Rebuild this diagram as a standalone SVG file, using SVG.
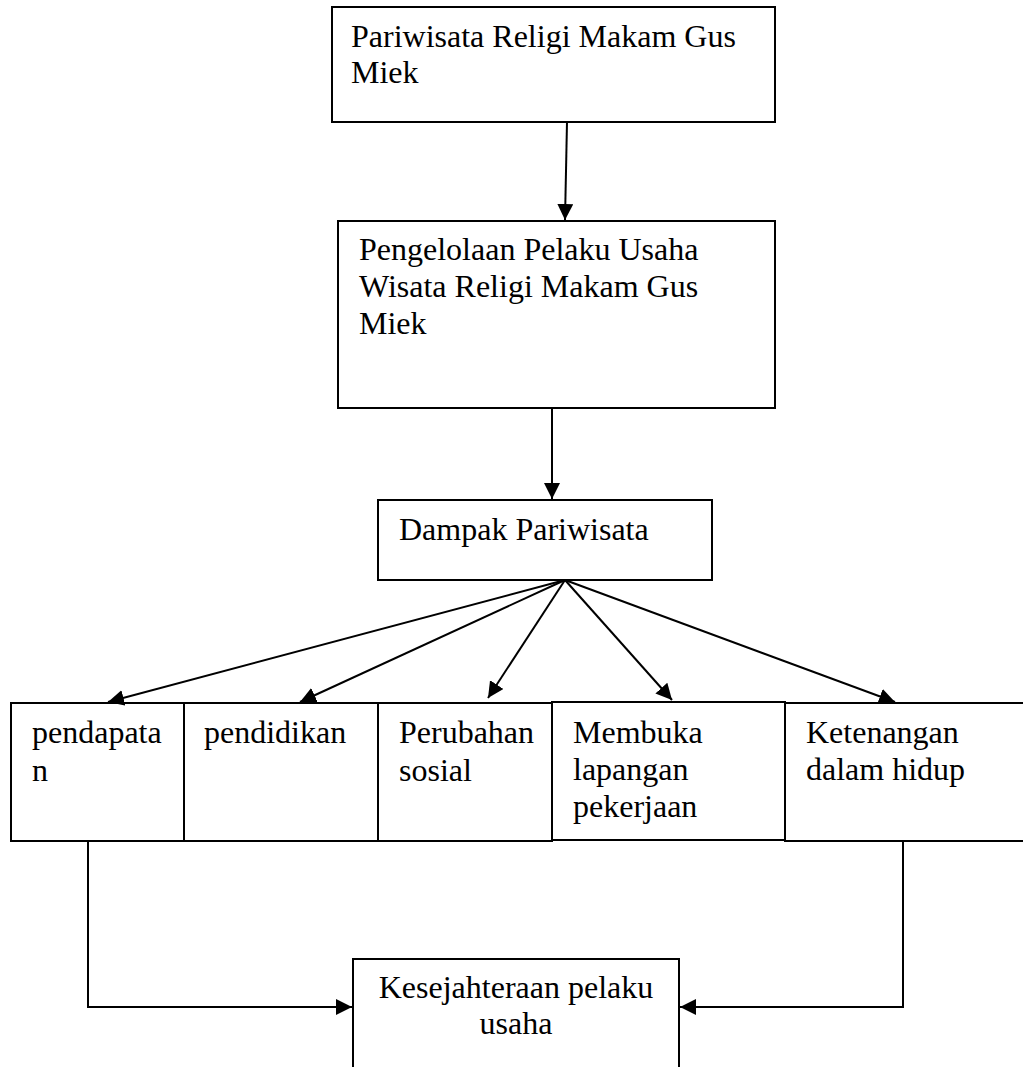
<svg xmlns="http://www.w3.org/2000/svg" width="1023" height="1067" viewBox="0 0 1023 1067">
<style>
.box{fill:#fff;stroke:#000;stroke-width:2}
.t{font-family:"Liberation Serif","Times New Roman",serif;font-size:32px;fill:#000}
.c{fill:none;stroke:#000;stroke-width:2}
</style>
<defs>
<marker id="ah" markerWidth="8" markerHeight="8" viewBox="0 0 10 10" refX="10" refY="5" orient="auto" markerUnits="strokeWidth">
<path d="M0,0 L10,5 L0,10 z" fill="#000"/>
</marker>
</defs>
<rect width="1023" height="1067" fill="#fff"/>
<g id="n1">
<rect class="box" x="332" y="7" width="443" height="115"/>
<text class="t" x="351" y="47">Pariwisata Religi Makam Gus</text>
<text class="t" x="351" y="83">Miek</text>
</g>
<g id="n2">
<rect class="box" x="338" y="221" width="437" height="187"/>
<text class="t" x="359" y="260">Pengelolaan Pelaku Usaha</text>
<text class="t" x="359" y="297">Wisata Religi Makam Gus</text>
<text class="t" x="359" y="334">Miek</text>
</g>
<g id="n3">
<rect class="box" x="378" y="500" width="334" height="80"/>
<text class="t" x="399" y="540">Dampak Pariwisata</text>
</g>
<g id="n4">
<rect class="box" x="11" y="703" width="173" height="138"/>
<text class="t" x="32" y="743">pendapata</text>
<text class="t" x="32" y="781">n</text>
</g>
<g id="n5">
<rect class="box" x="184" y="703" width="194" height="138"/>
<text class="t" x="204" y="743">pendidikan</text>
</g>
<g id="n6">
<rect class="box" x="378" y="703" width="174" height="138"/>
<text class="t" x="399" y="743">Perubahan</text>
<text class="t" x="399" y="781">sosial</text>
</g>
<g id="n7">
<rect class="box" x="552" y="702" width="233" height="138"/>
<text class="t" x="573" y="743">Membuka</text>
<text class="t" x="573" y="780">lapangan</text>
<text class="t" x="573" y="817">pekerjaan</text>
</g>
<g id="n8">
<rect class="box" x="785" y="703" width="250" height="138"/>
<text class="t" x="806" y="743">Ketenangan</text>
<text class="t" x="806" y="780">dalam hidup</text>
</g>
<g id="n9">
<rect class="box" x="353" y="959" width="326" height="120"/>
<text class="t" x="516" y="998" text-anchor="middle">Kesejahteraan pelaku</text>
<text class="t" x="516" y="1034" text-anchor="middle">usaha</text>
</g>
<g id="connectors">
<line class="c" x1="567" y1="122" x2="565" y2="220" marker-end="url(#ah)"/>
<line class="c" x1="552" y1="408" x2="552" y2="499" marker-end="url(#ah)"/>
<line class="c" x1="565" y1="580" x2="108" y2="702" marker-end="url(#ah)"/>
<line class="c" x1="565" y1="580" x2="300" y2="702" marker-end="url(#ah)"/>
<line class="c" x1="565" y1="580" x2="488" y2="698" marker-end="url(#ah)"/>
<line class="c" x1="565" y1="580" x2="672" y2="700" marker-end="url(#ah)"/>
<line class="c" x1="565" y1="580" x2="895" y2="702" marker-end="url(#ah)"/>
<polyline class="c" points="88,841 88,1007 352,1007" marker-end="url(#ah)"/>
<polyline class="c" points="903,841 903,1007 680,1007" marker-end="url(#ah)"/>
</g>
</svg>
